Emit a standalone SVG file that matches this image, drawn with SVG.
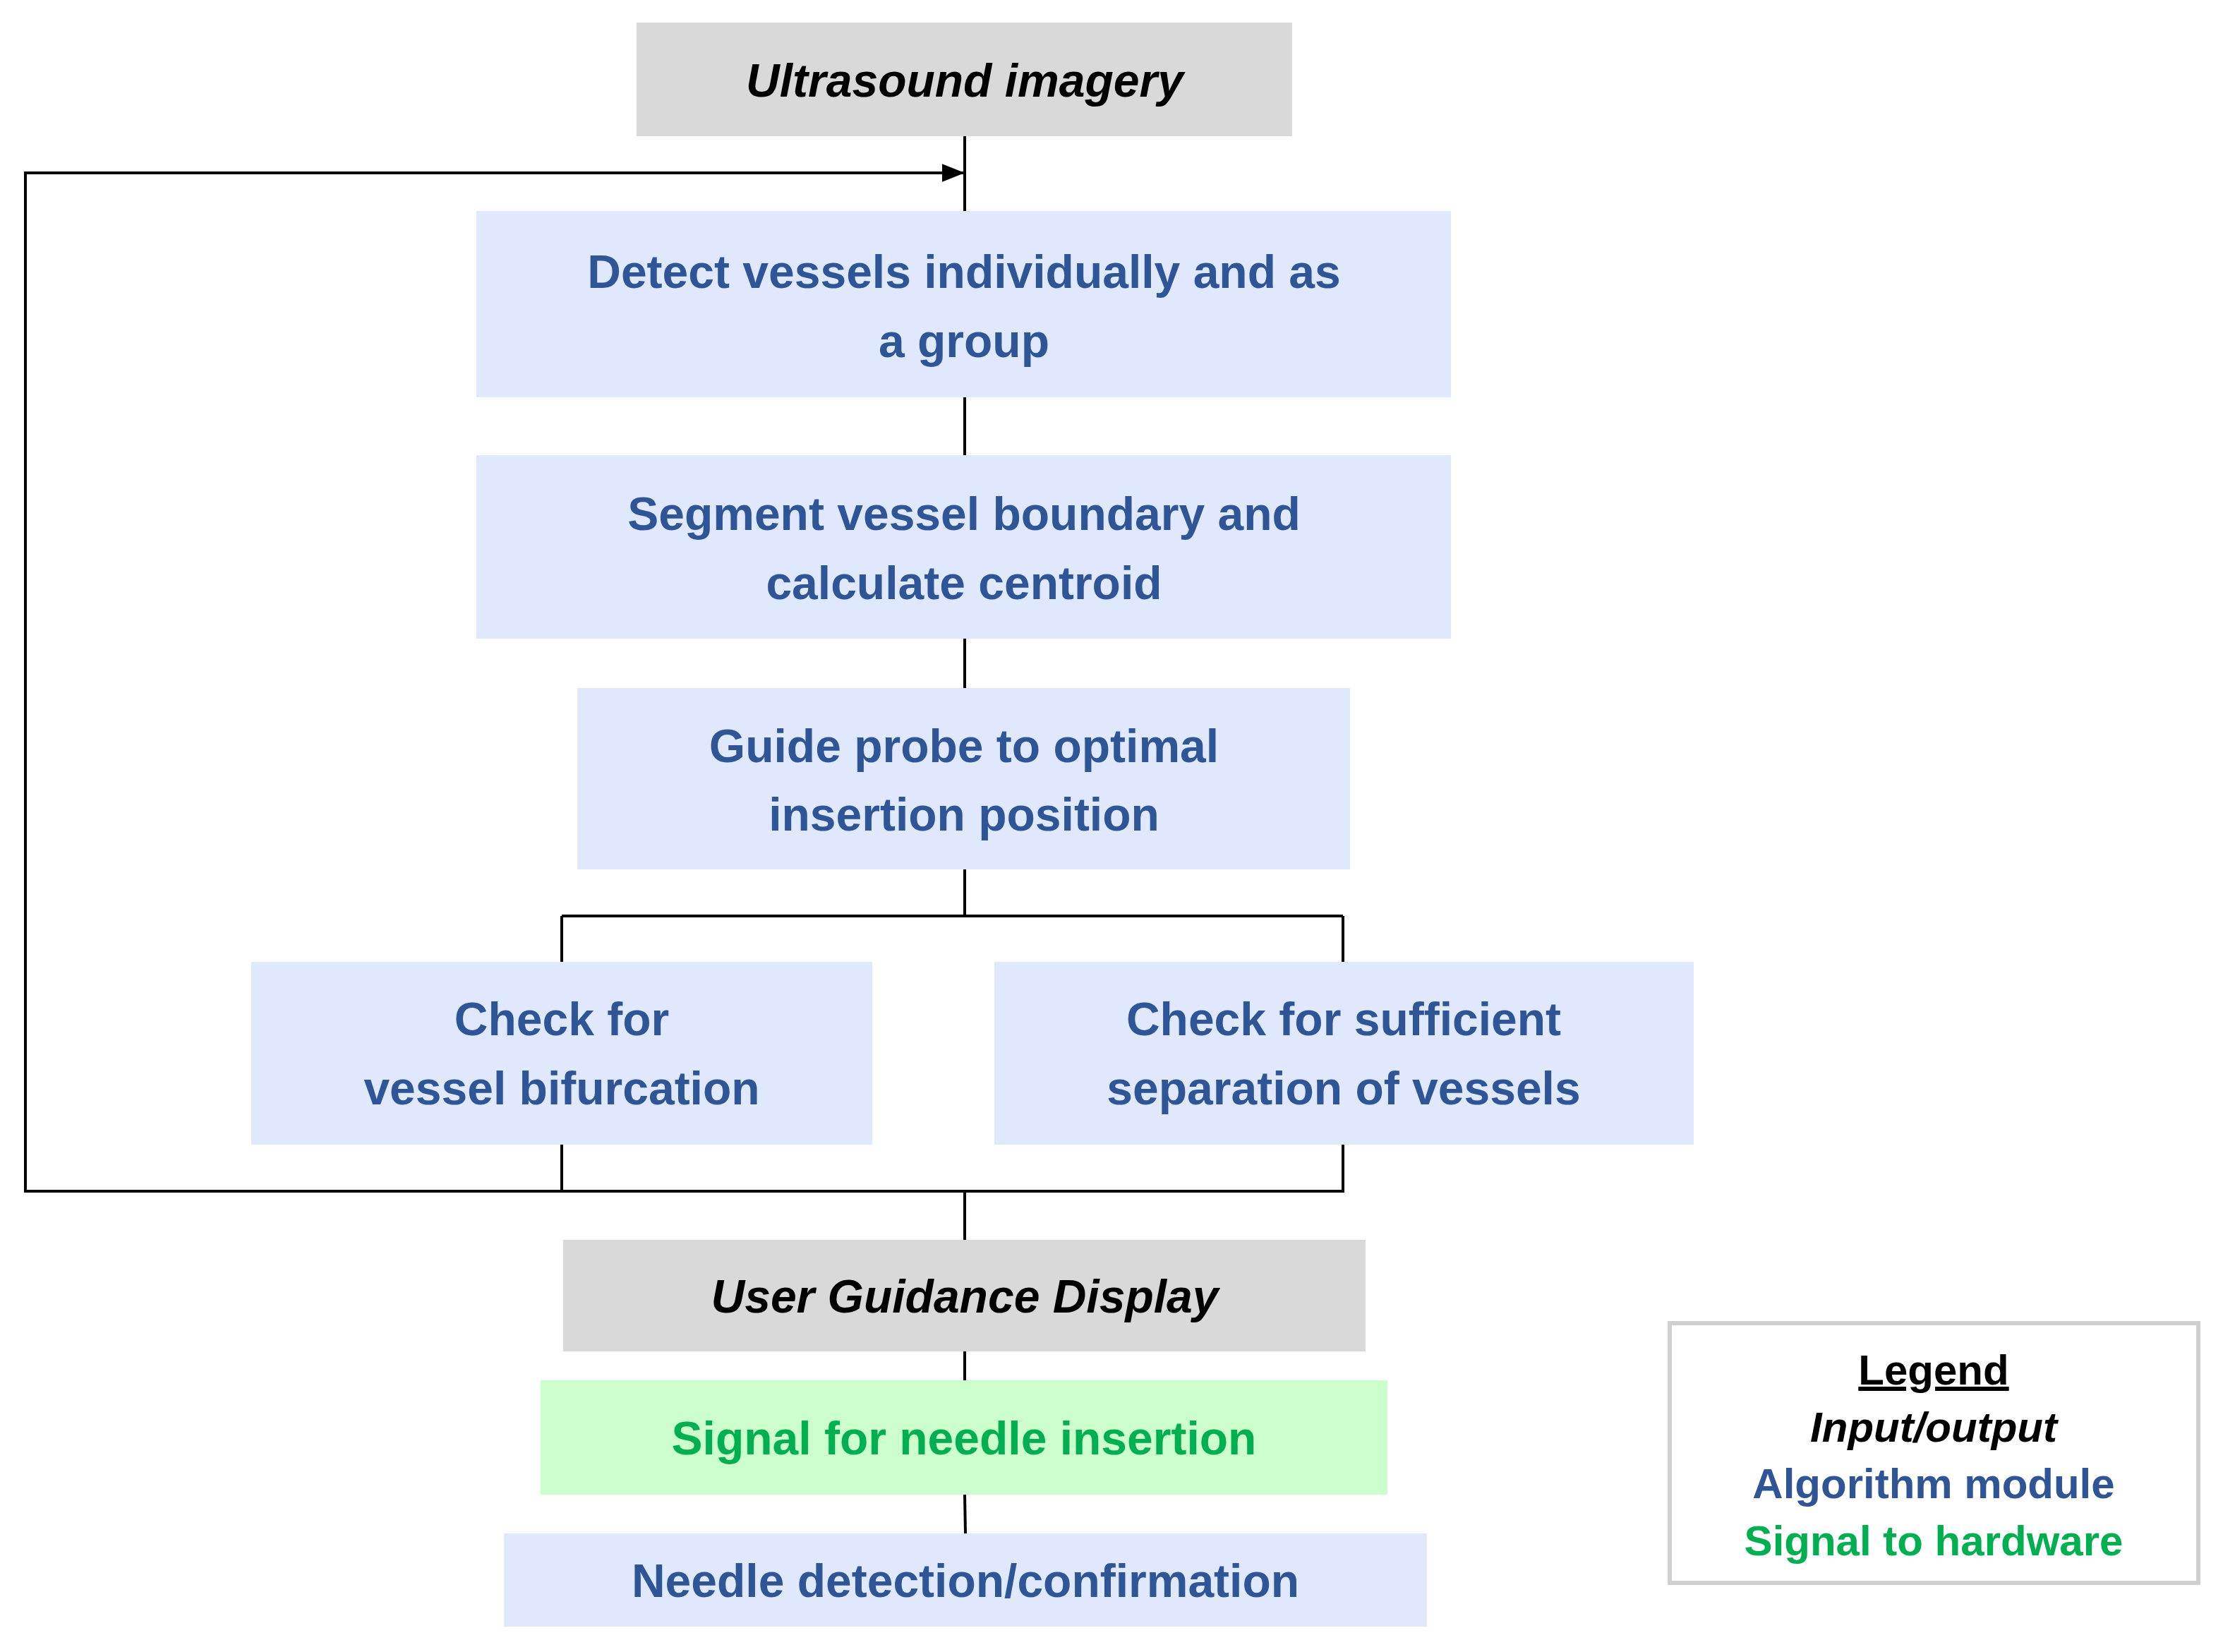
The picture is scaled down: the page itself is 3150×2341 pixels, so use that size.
<svg xmlns="http://www.w3.org/2000/svg" width="3150" height="2341" viewBox="0 0 3150 2341">
<style>
.t{font-family:"Liberation Sans",Arial,sans-serif;font-weight:bold;font-size:66px;text-anchor:middle}
.b{fill:#2F5597}.k{fill:#000;font-style:italic}.g{fill:#00B050}
.ln{stroke:#000;stroke-width:4;fill:none}
</style>
<defs><marker id="ar" markerWidth="10" markerHeight="10" refX="9" refY="5" orient="auto" markerUnits="userSpaceOnUse" viewBox="0 0 10 10"><path d="M0,0L10,5L0,10z" fill="#000"/></marker>
<marker id="a2" viewBox="0 0 10 10" refX="10" refY="5" markerWidth="32" markerHeight="32" markerUnits="userSpaceOnUse" orient="auto"><path d="M0,1L10,5L0,9z" fill="#000"/></marker></defs>
<rect width="3150" height="2341" fill="#fff"/>
<g id="connectors">
<path class="ln" d="M1367,193V299M1367,563V645M1367,905V975M1367,1232V1298M796,1298H1903M796,1298V1363M1903,1298V1363M796,1622V1688M1903,1622V1688H36V245H1367M1367,1688V1757M1367,1915V1956M1367,2118L1368,2173"/>
<path class="ln" d="M1300,245H1367" marker-end="url(#a2)"/>
</g>
<g id="ultrasound"><rect x="902" y="32" width="929" height="161" fill="#D9D9D9"/><text class="t k" x="1367" y="137">Ultrasound imagery</text></g>
<g id="detect"><rect x="675" y="299" width="1381" height="264" fill="#DFE8FC"/><text class="t b" x="1366" y="408">Detect vessels individually and as</text><text class="t b" x="1366" y="506">a group</text></g>
<g id="segment"><rect x="675" y="645" width="1381" height="260" fill="#DFE8FC"/><text class="t b" x="1366" y="751">Segment vessel boundary and</text><text class="t b" x="1366" y="849">calculate centroid</text></g>
<g id="guide"><rect x="818" y="975" width="1095" height="257" fill="#DFE8FC"/><text class="t b" x="1366" y="1080">Guide probe to optimal</text><text class="t b" x="1366" y="1177">insertion position</text></g>
<g id="check1"><rect x="356" y="1363" width="880" height="259" fill="#DFE8FC"/><text class="t b" x="796" y="1467">Check for</text><text class="t b" x="796" y="1565">vessel bifurcation</text></g>
<g id="check2"><rect x="1409" y="1363" width="991" height="259" fill="#DFE8FC"/><text class="t b" x="1904" y="1467">Check for sufficient</text><text class="t b" x="1904" y="1565">separation of vessels</text></g>
<g id="display"><rect x="798" y="1757" width="1137" height="158" fill="#D9D9D9"/><text class="t k" x="1367" y="1860">User Guidance Display</text></g>
<g id="signal"><rect x="766" y="1956" width="1200" height="162" fill="#CCFFCC"/><text class="t g" x="1366" y="2061">Signal for needle insertion</text></g>
<g id="needle"><rect x="714" y="2173" width="1308" height="132" fill="#DFE8FC"/><text class="t b" x="1368" y="2263">Needle detection/confirmation</text></g>
<g id="legend"><rect x="2366" y="1875" width="749" height="368" fill="#fff" stroke="#D0D0D0" stroke-width="6"/>
<text class="t" x="2740" y="1962" style="font-size:60px;text-decoration:underline">Legend</text>
<text class="t k" x="2740" y="2043" style="font-size:60px">Input/output</text>
<text class="t b" x="2740" y="2123" style="font-size:60px">Algorithm module</text>
<text class="t g" x="2740" y="2204" style="font-size:60px">Signal to hardware</text></g>
</svg>
